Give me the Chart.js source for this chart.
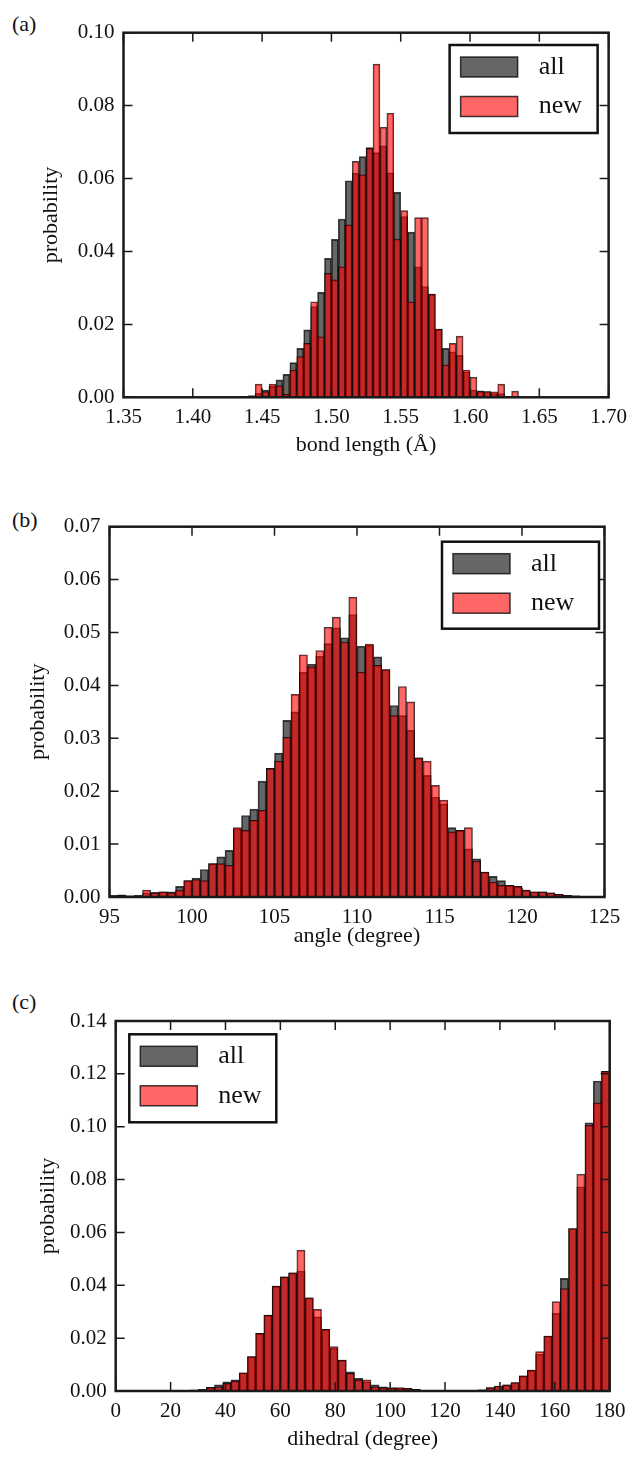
<!DOCTYPE html>
<html>
<head>
<meta charset="utf-8">
<script src="https://cdn.jsdelivr.net/npm/chart.js@4.4.1/dist/chart.umd.min.js"></script>
<style>
  html, body { margin: 0; padding: 0; background: #fff; }
  body { width: 635px; height: 1461px; position: relative; overflow: hidden;
         font-family: "Liberation Serif", "Times New Roman", serif; color: #111; }
  .tag { position: absolute; font-size: 22px; line-height: 1; }
  canvas { position: absolute; left: 0; }
</style>
</head>
<body>
<div class="tag" style="left:12px; top:13px">(a)</div>
<div class="tag" style="left:12px; top:509px">(b)</div>
<div class="tag" style="left:12px; top:991px">(c)</div>
<canvas id="bond" width="635" height="470" style="top:0px"></canvas>
<canvas id="angle" width="635" height="490" style="top:478px"></canvas>
<canvas id="dihedral" width="635" height="476" style="top:985px"></canvas>
<script>
// (a) bond length histogram, bins of 0.005 Å starting at 1.35
const bondBinStart = 1.35;
const bondBinWidth = 0.005;
const bondAll = [
  0, 0, 0, 0, 0, 0, 0, 0, 0, 0, 0, 0, 0, 0, 0, 0, 0,
  0.0003, 0.0005, 0.0011, 0.002, 0.003, 0.0048, 0.0063, 0.0095, 0.0134, 0.0185,
  0.0249, 0.0288, 0.0381, 0.0433, 0.0489, 0.0594, 0.0615, 0.066, 0.0685, 0.0671,
  0.069, 0.0616, 0.0562, 0.0496, 0.0453, 0.0358, 0.0304, 0.0283, 0.0187, 0.0134,
  0.0125, 0.0115, 0.007, 0.002, 0.0018, 0.0016, 0.001, 0.001, 0.0002, 0.0001,
  0, 0, 0, 0, 0, 0, 0, 0, 0, 0, 0, 0, 0
];
const bondNew = [
  0, 0, 0, 0, 0, 0, 0, 0, 0, 0, 0, 0, 0, 0, 0, 0, 0,
  0, 0.0003, 0.0036, 0.0016, 0.0036, 0.0032, 0.0008, 0.0075, 0.0112, 0.0148,
  0.0262, 0.0166, 0.034, 0.0322, 0.0358, 0.0473, 0.0647, 0.061, 0.0683, 0.0914,
  0.0741, 0.0779, 0.0434, 0.0512, 0.0262, 0.0493, 0.0493, 0.0283, 0.0187, 0.0089,
  0.0148, 0.0168, 0.0075, 0.0055, 0.0016, 0.0016, 0.0015, 0.0036, 0.0003, 0.0017,
  0, 0, 0, 0, 0, 0, 0, 0, 0, 0, 0, 0, 0
];
const bondXTicks = [1.35, 1.40, 1.45, 1.50, 1.55, 1.60, 1.65, 1.70];
const bondYTicks = [0, 0.02, 0.04, 0.06, 0.08, 0.10];

// (b) angle histogram, bins of 0.5 degree starting at 95
const angleBinStart = 95;
const angleBinWidth = 0.5;
const angleAll = [
  0.0003, 0.0004, 0.0002, 0.0003, 0.0008, 0.0009, 0.001, 0.001, 0.002, 0.0031,
  0.0036, 0.0052, 0.0063, 0.0076, 0.0088, 0.0129, 0.0154, 0.0166, 0.0219, 0.0243,
  0.0272, 0.0334, 0.035, 0.0425, 0.044, 0.0455, 0.0479, 0.0509, 0.049, 0.0534,
  0.0474, 0.0476, 0.0454, 0.043, 0.0362, 0.0343, 0.0315, 0.0263, 0.023, 0.0189,
  0.0176, 0.0131, 0.0126, 0.0091, 0.0072, 0.0047, 0.0039, 0.0031, 0.0022, 0.002,
  0.0013, 0.001, 0.001, 0.0008, 0.0005, 0.0003, 0.0002, 0.0001, 0.0001, 0
];
const angleNew = [
  0.0002, 0.0003, 0.0002, 0.0002, 0.0013, 0.0008, 0.001, 0.0008, 0.0013, 0.0031,
  0.0033, 0.0031, 0.0063, 0.0063, 0.006, 0.0131, 0.0126, 0.0145, 0.0164, 0.0243,
  0.0257, 0.0302, 0.0383, 0.0458, 0.0435, 0.0466, 0.051, 0.0529, 0.0482, 0.0567,
  0.0425, 0.0478, 0.0438, 0.043, 0.0343, 0.0398, 0.0369, 0.0263, 0.0257, 0.0211,
  0.0183, 0.0123, 0.0126, 0.0131, 0.0068, 0.0047, 0.0028, 0.0022, 0.0022, 0.002,
  0.0013, 0.001, 0.001, 0.0008, 0.0005, 0.0003, 0.0002, 0.0001, 0, 0
];
const angleXTicks = [95, 100, 105, 110, 115, 120, 125];
const angleYTicks = [0, 0.01, 0.02, 0.03, 0.04, 0.05, 0.06, 0.07];

// (c) dihedral histogram, bins of 3 degree starting at 0
const dihedralBinStart = 0;
const dihedralBinWidth = 3;
const dihedralAll = [
  0, 0, 0, 0, 0, 0, 0, 0.0001, 0.0002, 0.0004,
  0.0006, 0.0014, 0.0023, 0.0035, 0.0042, 0.0069, 0.013, 0.0218, 0.0287, 0.0397,
  0.0432, 0.0447, 0.0454, 0.0353, 0.0281, 0.0233, 0.0161, 0.0117, 0.0073, 0.0048,
  0.0035, 0.0023, 0.0016, 0.0013, 0.001, 0.001, 0.0006, 0.0002, 0.0001, 0.0001,
  0.0002, 0.0002, 0.0003, 0.0003, 0.0004, 0.0013, 0.0019, 0.0023, 0.0032, 0.0057,
  0.0079, 0.0139, 0.0208, 0.0294, 0.0426, 0.0615, 0.0773, 0.1015, 0.1173, 0.121
];
const dihedralNew = [
  0, 0, 0, 0, 0, 0, 0, 0, 0.0001, 0.0003,
  0.0005, 0.0014, 0.0016, 0.0029, 0.0038, 0.0069, 0.013, 0.0218, 0.0287, 0.0397,
  0.0432, 0.0447, 0.0533, 0.0353, 0.0309, 0.0233, 0.0168, 0.0117, 0.0067, 0.0042,
  0.0042, 0.0016, 0.0013, 0.0011, 0.0013, 0.001, 0.0006, 0.0002, 0.0001, 0.0001,
  0.0002, 0.0002, 0.0003, 0.0003, 0.0004, 0.0013, 0.0019, 0.0023, 0.0032, 0.0057,
  0.0079, 0.0149, 0.0208, 0.0338, 0.0388, 0.0615, 0.082, 0.1006, 0.109, 0.121
];
const dihedralXTicks = [0, 20, 40, 60, 80, 100, 120, 140, 160, 180];
const dihedralYTicks = [0, 0.02, 0.04, 0.06, 0.08, 0.10, 0.12, 0.14];

const FONT = '"Liberation Serif", "Times New Roman", serif';
const INK = '#111';
const ALL_FILL = 'rgba(0, 0, 0, 0.6)';
const NEW_FILL = 'rgba(255, 0, 0, 0.6)';
const EDGE = 'rgba(0, 0, 0, 0.75)';

Chart.defaults.font.family = FONT;
Chart.defaults.color = INK;

// histogram bins -> {x: bin centre, y: probability}
function toBars(start, width, values) {
  return values.map((v, i) => ({ x: start + width * (i + 0.5), y: v }));
}

// matplotlib-like box with inward ticks on all four sides
const frameTicks = {
  id: 'frameTicks',
  afterDatasetsDraw(chart) {
    const { ctx, chartArea: a, scales: { x, y } } = chart;
    const len = 9;
    ctx.save();
    ctx.strokeStyle = '#1a1a1a';
    ctx.lineWidth = 1.5;
    ctx.beginPath();
    x.ticks.forEach(t => {
      const px = x.getPixelForValue(t.value);
      ctx.moveTo(px, a.bottom); ctx.lineTo(px, a.bottom - len);
      ctx.moveTo(px, a.top); ctx.lineTo(px, a.top + len);
    });
    y.ticks.forEach(t => {
      const py = y.getPixelForValue(t.value);
      ctx.moveTo(a.left, py); ctx.lineTo(a.left + len, py);
      ctx.moveTo(a.right, py); ctx.lineTo(a.right - len, py);
    });
    ctx.stroke();
    ctx.lineWidth = 2.5;
    ctx.strokeRect(a.left, a.top, a.right - a.left, a.bottom - a.top);
    ctx.restore();
  }
};

// boxed legend drawn inside the plot area
const insetLegend = {
  id: 'insetLegend',
  afterDraw(chart, args, opts) {
    const { ctx, chartArea: a } = chart;
    const bx = opts.side === 'left' ? a.left + opts.dx : a.right - opts.dx - opts.w;
    const by = a.top + opts.dy;
    ctx.save();
    ctx.fillStyle = '#fff';
    ctx.fillRect(bx, by, opts.w, opts.h);
    ctx.lineWidth = 2.5;
    ctx.strokeStyle = INK;
    ctx.strokeRect(bx, by, opts.w, opts.h);
    chart.data.datasets.forEach((ds, i) => {
      const sy = by + 12 + i * 39.5;
      ctx.fillStyle = ds.backgroundColor;
      ctx.fillRect(bx + 11, sy, 57, 20);
      ctx.lineWidth = 1.5;
      ctx.strokeStyle = ds.borderColor;
      ctx.strokeRect(bx + 11, sy, 57, 20);
      ctx.fillStyle = INK;
      ctx.font = '26px ' + FONT;
      ctx.textBaseline = 'middle';
      ctx.fillText(ds.label, bx + 89, sy + 10);
    });
    ctx.restore();
  }
};

function histChart(id, g) {
  const canvas = document.getElementById(id);
  const h = canvas.height;
  const titleLh = 22 * 1.2;
  return new Chart(canvas, {
    type: 'bar',
    data: {
      datasets: [
        { label: 'all', data: toBars(g.start, g.width, g.all), backgroundColor: ALL_FILL,
          borderColor: EDGE, borderWidth: 1, grouped: false, order: 1 },
        { label: 'new', data: toBars(g.start, g.width, g.fresh), backgroundColor: NEW_FILL,
          borderColor: EDGE, borderWidth: 1, grouped: false, order: 0 }
      ]
    },
    options: {
      responsive: false,
      animation: false,
      events: [],
      layout: { padding: { left: 0, top: g.T - g.top, right: 635 - g.R, bottom: 0 } },
      datasets: { bar: { categoryPercentage: 1, barPercentage: 1 } },
      plugins: {
        legend: { display: false },
        tooltip: { enabled: false },
        insetLegend: g.legend
      },
      scales: {
        x: {
          type: 'linear', offset: false,
          min: g.xTicks[0], max: g.xTicks[g.xTicks.length - 1],
          afterBuildTicks: s => { s.ticks = g.xTicks.map(v => ({ value: v })); },
          afterFit: s => { s.height = h - (g.B - g.top); },
          grid: { display: false, drawTicks: false },
          border: { display: false },
          ticks: { font: { size: 21 }, color: INK, padding: 8, maxRotation: 0, autoSkip: false,
                   callback: v => v.toFixed(g.xDec) },
          title: { display: true, text: g.xTitle, font: { size: 22 }, color: INK,
                   padding: { top: 0, bottom: h - (g.xTitleY - g.top) - titleLh / 2 } }
        },
        y: {
          min: 0, max: g.yTicks[g.yTicks.length - 1],
          afterBuildTicks: s => { s.ticks = g.yTicks.map(v => ({ value: v })); },
          afterFit: s => { s.width = g.L; },
          grid: { display: false, drawTicks: false },
          border: { display: false },
          ticks: { font: { size: 21 }, color: INK, padding: 9, callback: v => v.toFixed(2) },
          title: { display: true, text: 'probability', font: { size: 22 }, color: INK,
                   padding: { top: g.yTitleX - titleLh / 2, bottom: 0 } }
        }
      }
    },
    plugins: [frameTicks, insetLegend]
  });
}

histChart('bond', {
  top: 0, L: 123.5, R: 612, T: 32.7, B: 397.3, xTitleY: 445, yTitleX: 51,
  start: bondBinStart, width: bondBinWidth, all: bondAll, fresh: bondNew,
  xTicks: bondXTicks, yTicks: bondYTicks, xDec: 2, xTitle: 'bond length (Å)',
  legend: { side: 'right', dx: 11, dy: 12.3, w: 148, h: 88 }
});

histChart('angle', {
  top: 478, L: 109.5, R: 604.5, T: 526.7, B: 897, xTitleY: 936, yTitleX: 38,
  start: angleBinStart, width: angleBinWidth, all: angleAll, fresh: angleNew,
  xTicks: angleXTicks, yTicks: angleYTicks, xDec: 0, xTitle: 'angle (degree)',
  legend: { side: 'right', dx: 5.5, dy: 15, w: 157, h: 87 }
});

histChart('dihedral', {
  top: 985, L: 115.7, R: 609.7, T: 1021, B: 1391, xTitleY: 1439, yTitleX: 48,
  start: dihedralBinStart, width: dihedralBinWidth, all: dihedralAll, fresh: dihedralNew,
  xTicks: dihedralXTicks, yTicks: dihedralYTicks, xDec: 0, xTitle: 'dihedral (degree)',
  legend: { side: 'left', dx: 13.6, dy: 13.3, w: 147, h: 88 }
});
</script>
</body>
</html>
